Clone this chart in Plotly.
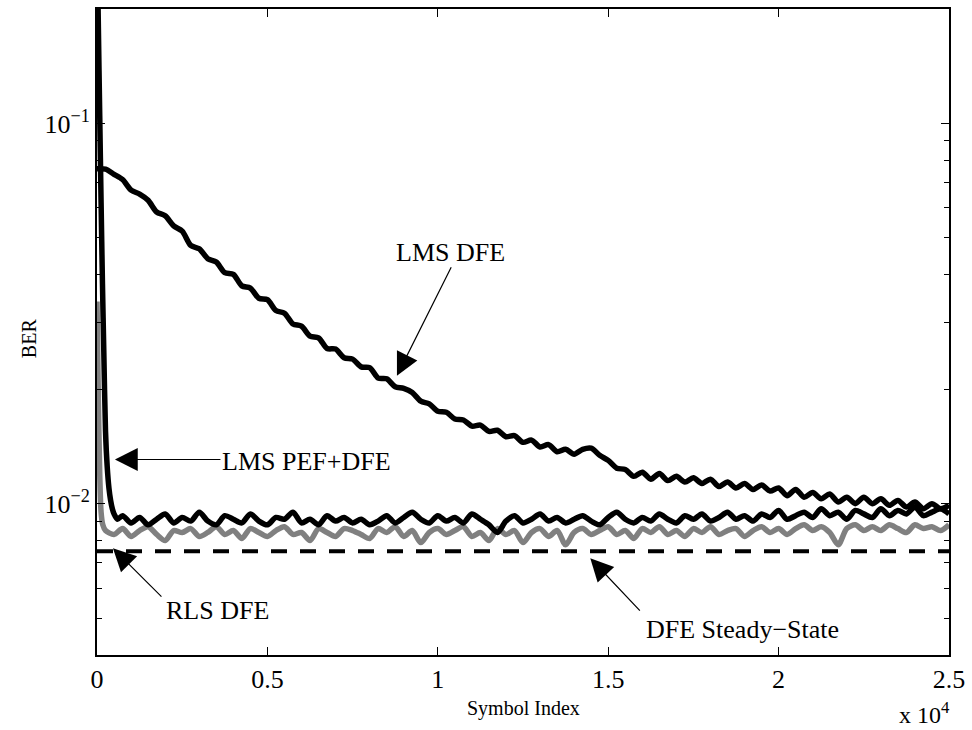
import numpy as np
import plotly.graph_objects as go

# ---------------- data ----------------
lms_dfe_x = list(range(0, 25001, 250))
lms_dfe_y = [0.0760, 0.0758, 0.0735, 0.0712, 0.0668, 0.0652, 0.0628, 0.0585, 0.0572, 0.0538,
             0.0521, 0.0478, 0.0468, 0.0441, 0.0432, 0.0405, 0.0401, 0.0374, 0.0369, 0.0347,
             0.0344, 0.0322, 0.0317, 0.0297, 0.0293, 0.0276, 0.0273, 0.0256, 0.0255, 0.0242,
             0.0240, 0.0229, 0.0228, 0.0214, 0.0213, 0.0203, 0.0201, 0.0196, 0.0186, 0.0183,
             0.0175, 0.0174, 0.0167, 0.0166, 0.0160, 0.0161, 0.0155, 0.0156, 0.0150, 0.0151,
             0.0145, 0.0147, 0.0141, 0.0143, 0.0137, 0.0139, 0.0135, 0.0139, 0.0140, 0.0134,
             0.0130, 0.0124, 0.0123, 0.0118, 0.0121, 0.0116, 0.0120, 0.0115, 0.0118, 0.0114,
             0.0117, 0.0113, 0.0116, 0.0111, 0.0114, 0.0110, 0.0113, 0.0109, 0.0112, 0.0108,
             0.0110, 0.0105, 0.0109, 0.0104, 0.0107, 0.0103, 0.0106, 0.0101, 0.0104, 0.0100,
             0.0104, 0.0100, 0.0103, 0.0099, 0.0102, 0.0098, 0.0101, 0.0097, 0.0100, 0.0097,
             0.0099]

pef_x = [0, 40, 80, 120, 160, 200, 250, 300, 350, 400, 450, 500, 600] + list(range(750, 25001, 250))
pef_y = [0.32, 0.18, 0.105, 0.062, 0.038, 0.025, 0.0155, 0.0125, 0.0110, 0.0102, 0.0097, 0.0094, 0.0091,
         0.0093, 0.0089, 0.0092, 0.0088, 0.0091, 0.0094, 0.0089, 0.0092, 0.0090, 0.0095,
         0.0090, 0.0088, 0.0093, 0.0091, 0.0089, 0.0094, 0.0090, 0.0088, 0.0092, 0.0091,
         0.0095, 0.0089, 0.0091, 0.0088, 0.0093, 0.0090, 0.0092, 0.0089, 0.0091, 0.0088,
         0.0090, 0.0093, 0.0089, 0.0092, 0.0095, 0.0091, 0.0089, 0.0093, 0.0090, 0.0092,
         0.0089, 0.0094, 0.0091, 0.0088, 0.0084, 0.0090, 0.0093, 0.0089, 0.0091, 0.0094,
         0.0090, 0.0092, 0.0089, 0.0091, 0.0093, 0.0090, 0.0088, 0.0092, 0.0095, 0.0091,
         0.0089, 0.0092, 0.0090, 0.0094, 0.0091, 0.0089, 0.0093, 0.0091, 0.0094, 0.0090,
         0.0092, 0.0095, 0.0091, 0.0093, 0.0090, 0.0094, 0.0092, 0.0096, 0.0091, 0.0093,
         0.0095, 0.0092, 0.0097, 0.0093, 0.0095, 0.0091, 0.0096, 0.0094, 0.0092, 0.0097,
         0.0093, 0.0096, 0.0094, 0.0098, 0.0093, 0.0095, 0.0097, 0.0094]

rls_x = [0, 40, 80, 120, 170] + list(range(250, 25001, 250))
rls_y = [0.034, 0.019, 0.012, 0.0095, 0.0088,
         0.0085, 0.0083, 0.0086, 0.0082, 0.0085, 0.0087, 0.0083, 0.0080, 0.0085, 0.0084,
         0.0086, 0.0082, 0.0084, 0.0087, 0.0083, 0.0085, 0.0081, 0.0086, 0.0084, 0.0082,
         0.0085, 0.0087, 0.0083, 0.0084, 0.0080, 0.0086, 0.0084, 0.0082, 0.0086, 0.0085,
         0.0083, 0.0081, 0.0086, 0.0084, 0.0087, 0.0082, 0.0085, 0.0079, 0.0084, 0.0086,
         0.0083, 0.0085, 0.0087, 0.0082, 0.0084, 0.0080, 0.0086, 0.0083, 0.0085, 0.0079,
         0.0084, 0.0086, 0.0082, 0.0085, 0.0078, 0.0084, 0.0086, 0.0083, 0.0085, 0.0087,
         0.0083, 0.0085, 0.0081, 0.0086, 0.0084, 0.0087, 0.0083, 0.0085, 0.0082, 0.0086,
         0.0084, 0.0087, 0.0083, 0.0085, 0.0086, 0.0082, 0.0085, 0.0087, 0.0084, 0.0086,
         0.0083, 0.0086, 0.0088, 0.0085, 0.0087, 0.0084, 0.0078, 0.0086, 0.0088, 0.0085,
         0.0087, 0.0085, 0.0088, 0.0086, 0.0084, 0.0088, 0.0086, 0.0087, 0.0085, 0.0088]

steady_x = [0, 25000]
steady_y = [0.0075, 0.0075]

x_ticks = [0, 5000, 10000, 15000, 20000, 25000]
x_ticktext = ["0", "0.5", "1", "1.5", "2", "2.5"]
y_ticks = [0.01, 0.1]
y_ticktext = ["10<sup>\u22122</sup>", "10<sup>\u22121</sup>"]
y_minor = [0.005, 0.006, 0.007, 0.008, 0.009, 0.02, 0.03, 0.04, 0.05, 0.06, 0.07, 0.08, 0.09, 0.2]

labels = ["LMS DFE", "LMS PEF+DFE", "RLS DFE", "DFE Steady\u2212State"]
label_x = [10380, 6140, 3538, 18947]
label_y = [0.0459, 0.01291, 0.005223, 0.004657]
tip_x = [8801, 526, 468, 14474]
tip_y = [0.02171, 0.01307, 0.00764, 0.00719]
tail_dx = [55, 107, 50, 51]
tail_dy = [-110, 0, 50, 54]

FONT = "Times New Roman, Liberation Serif, serif"

fig = go.Figure()
fig.add_trace(go.Scatter(x=rls_x, y=rls_y, mode="lines",
                         line=dict(color="#808080", width=5.5, shape="spline", smoothing=0.8),
                         name="RLS DFE"))
fig.add_trace(go.Scatter(x=pef_x, y=pef_y, mode="lines",
                         line=dict(color="black", width=5.5, shape="spline", smoothing=0.8),
                         name="LMS PEF+DFE"))
fig.add_trace(go.Scatter(x=lms_dfe_x, y=lms_dfe_y, mode="lines",
                         line=dict(color="black", width=5.5, shape="spline", smoothing=0.8),
                         name="LMS DFE"))
fig.add_trace(go.Scatter(x=steady_x, y=steady_y, mode="lines",
                         line=dict(color="black", width=4, dash="16px,13px"),
                         name="DFE Steady-State"))

annotations = []
for t, lx, ly in zip(labels, label_x, label_y):
    annotations.append(dict(x=lx, y=np.log10(ly), xref="x", yref="y", text=t, showarrow=False,
                            font=dict(family=FONT, size=26, color="black")))
for tx, ty, dx, dy in zip(tip_x, tip_y, tail_dx, tail_dy):
    annotations.append(dict(x=tx, y=np.log10(ty), xref="x", yref="y", text="", showarrow=True,
                            ax=dx, ay=dy, arrowhead=2, arrowsize=3.8, arrowwidth=1.2,
                            arrowcolor="black", standoff=0))
annotations.append(dict(x=0.5, y=-0.062, xref="paper", yref="paper", text="Symbol Index",
                        showarrow=False, xanchor="center", yanchor="top",
                        font=dict(family=FONT, size=20, color="black")))
annotations.append(dict(x=-0.079, y=0.49, xref="paper", yref="paper", text="BER", textangle=-90,
                        showarrow=False, xanchor="center", yanchor="middle",
                        font=dict(family=FONT, size=20, color="black")))
annotations.append(dict(x=1.003, y=-0.1155, xref="paper", yref="paper", text="x 10<sup>4</sup>",
                        showarrow=False, xanchor="right", yanchor="bottom",
                        font=dict(family=FONT, size=24, color="black")))

fig.update_layout(
    width=972, height=730,
    margin=dict(l=97, r=20, t=7, b=75),
    paper_bgcolor="white", plot_bgcolor="white",
    showlegend=False,
    font=dict(family=FONT, size=26, color="black"),
    annotations=annotations,
    xaxis=dict(range=[0, 25000], tickvals=x_ticks, ticktext=x_ticktext,
               ticks="inside", ticklen=8, tickwidth=1, tickcolor="black",
               showline=True, linecolor="black", linewidth=2, mirror="ticks",
               showgrid=False, zeroline=False,
               tickfont=dict(family=FONT, size=26, color="black")),
    yaxis=dict(type="log", range=[np.log10(0.004), np.log10(0.2)],
               tickvals=y_ticks, ticktext=y_ticktext,
               ticks="inside", ticklen=8, tickwidth=1, tickcolor="black",
               minor=dict(tickvals=y_minor, ticks="inside", ticklen=5, tickwidth=1,
                          tickcolor="black", showgrid=False),
               showline=True, linecolor="black", linewidth=2, mirror="ticks",
               showgrid=False, zeroline=False,
               tickfont=dict(family=FONT, size=26, color="black")),
)

fig.write_html("out.html")
